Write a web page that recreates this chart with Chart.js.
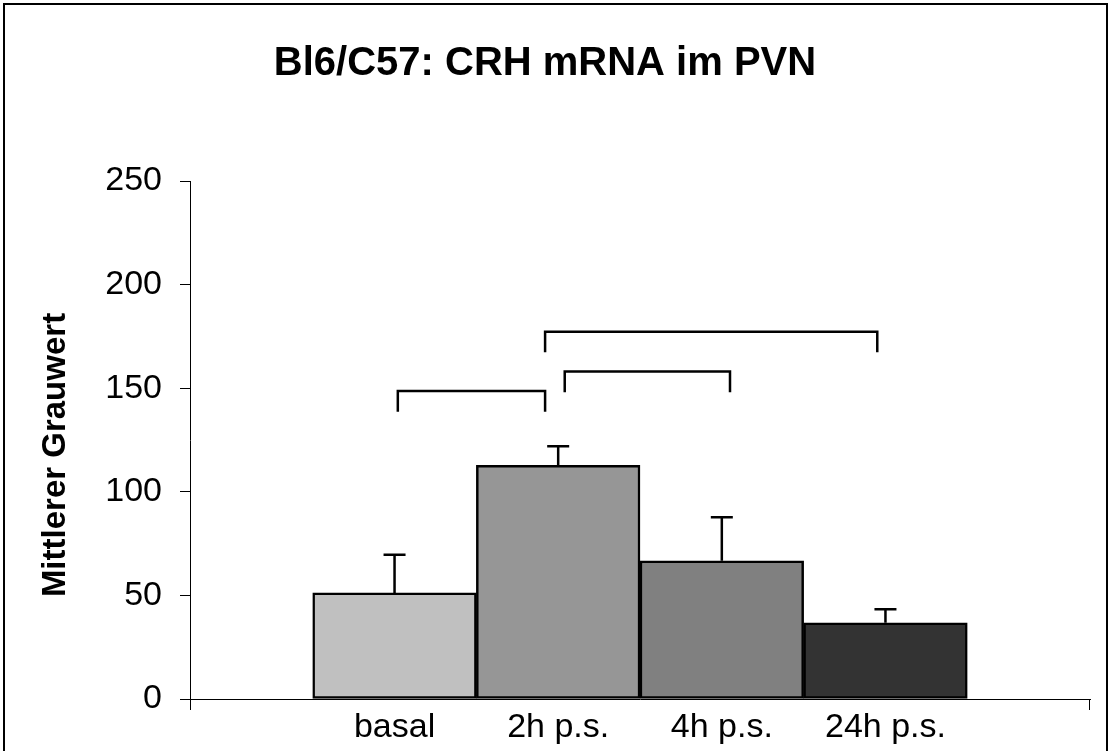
<!DOCTYPE html>
<html>
<head>
    <title>Bl6/C57: CRH mRNA im PVN</title>
    <script src="https://cdn.jsdelivr.net/npm/chart.js"></script>
    <style>
        body { margin: 0; background: #fff; }
    </style>
</head>
<body>
    <canvas id="crhChart" width="1112" height="751"></canvas>

    <script>
        // Daten
        const categories = ['basal', '2h p.s.', '4h p.s.', '24h p.s.'];
        const meanValues = [51.2, 112.8, 66.7, 36.8];
        const errorValues = [18.4, 9.2, 21.0, 6.5];
        const barColors = ['#c0c0c0', '#969696', '#808080', '#333333'];
        const yTicks = [0, 50, 100, 150, 200, 250];
        const yTitle = 'Mittlerer Grauwert';

        // Signifikanz-Klammern (x in Kategorie-Einheiten, y in Grauwert)
        const bracketFrom = [0.02, 1.04, 0.92];
        const bracketTo = [0.92, 2.05, 2.95];
        const bracketTop = [148.6, 158.0, 177.3];
        const bracketDrop = [10, 10, 10];

        const fontFamily = 'Arial, "Liberation Sans", sans-serif';

        // Plugin: Rahmen, Achsentitel, Fehlerbalken, Klammern
        const extrasPlugin = {
            id: 'extras',
            beforeDraw(chart) {
                const ctx = chart.ctx;
                ctx.save();
                ctx.fillStyle = '#fff';
                ctx.fillRect(0, 0, chart.width, chart.height);
                ctx.strokeStyle = '#000';
                ctx.lineWidth = 2;
                ctx.strokeRect(4, 4, 1103, 800);
                ctx.restore();
            },
            afterDatasetsDraw(chart) {
                const ctx = chart.ctx;
                const x = chart.scales.x;
                const y = chart.scales.y;
                ctx.save();
                ctx.strokeStyle = '#000';

                // y-Achsentitel (etwas unterhalb der Mitte wie im Original)
                ctx.save();
                ctx.translate(56, 455);
                ctx.rotate(-Math.PI / 2);
                ctx.fillStyle = '#000';
                ctx.font = 'bold 33px ' + fontFamily;
                ctx.textAlign = 'center';
                ctx.textBaseline = 'middle';
                ctx.fillText(yTitle, 0, 0);
                ctx.restore();

                // Achsen-Verlaengerungen unten
                ctx.lineWidth = 1;
                ctx.beginPath();
                ctx.moveTo(x.left + 0.5, y.bottom);
                ctx.lineTo(x.left + 0.5, y.bottom + 11);
                ctx.moveTo(x.right - 0.5, y.bottom);
                ctx.lineTo(x.right - 0.5, y.bottom + 11);
                ctx.stroke();

                // Fehlerbalken
                ctx.lineWidth = 2.5;
                meanValues.forEach((v, i) => {
                    const px = x.getPixelForValue(i);
                    const top = y.getPixelForValue(v + errorValues[i]);
                    ctx.beginPath();
                    ctx.moveTo(px, y.getPixelForValue(v));
                    ctx.lineTo(px, top);
                    ctx.moveTo(px - 11, top);
                    ctx.lineTo(px + 11, top);
                    ctx.stroke();
                });

                // Klammern
                bracketFrom.forEach((from, i) => {
                    const x1 = x.getPixelForValue(from);
                    const x2 = x.getPixelForValue(bracketTo[i]);
                    const yt = y.getPixelForValue(bracketTop[i]);
                    const yb = y.getPixelForValue(bracketTop[i] - bracketDrop[i]);
                    ctx.beginPath();
                    ctx.moveTo(x1, yb);
                    ctx.lineTo(x1, yt);
                    ctx.lineTo(x2, yt);
                    ctx.lineTo(x2, yb);
                    ctx.stroke();
                });
                ctx.restore();
            }
        };

        const ctx = document.getElementById('crhChart').getContext('2d');
        const chart = new Chart(ctx, {
            type: 'bar',
            data: {
                datasets: [{
                    data: categories.map((c, i) => ({ x: i, y: meanValues[i] })),
                    backgroundColor: barColors,
                    borderColor: '#000',
                    borderWidth: 2.5,
                    borderSkipped: false,
                    barPercentage: 1,
                    categoryPercentage: 1
                }]
            },
            options: {
                responsive: false,
                animation: false,
                devicePixelRatio: 1,
                layout: { padding: { left: 0, right: 22, top: 0, bottom: 0 } },
                plugins: {
                    legend: { display: false },
                    tooltip: { enabled: false },
                    title: {
                        display: true,
                        text: 'Bl6/C57: CRH mRNA im PVN',
                        color: '#000',
                        font: { family: fontFamily, size: 40, weight: 'bold' },
                        padding: { top: 40, bottom: 93 }
                    }
                },
                scales: {
                    x: {
                        type: 'linear',
                        offset: false,
                        min: -1.25,
                        max: 4.25,
                        afterBuildTicks: (scale) => {
                            scale.ticks = categories.map((c, i) => ({ value: i }));
                        },
                        afterFit: (scale) => { scale.height = 52; },
                        grid: { display: false },
                        border: { display: true, color: '#000', width: 1 },
                        ticks: {
                            autoSkip: false,
                            maxRotation: 0,
                            padding: 0,
                            color: '#000',
                            font: { family: fontFamily, size: 34 },
                            callback: (value) => categories[value]
                        }
                    },
                    y: {
                        min: 0,
                        max: 250,
                        afterBuildTicks: (scale) => {
                            scale.ticks = yTicks.map(v => ({ value: v }));
                        },
                        afterFit: (scale) => { scale.width = 190; },
                        grid: {
                            drawOnChartArea: false,
                            drawTicks: true,
                            tickLength: 10,
                            color: '#000'
                        },
                        border: { display: true, color: '#000', width: 1 },
                        ticks: {
                            padding: 18,
                            color: '#000',
                            font: { family: fontFamily, size: 34 }
                        }
                    }
                }
            },
            plugins: [extrasPlugin]
        });
    </script>
</body>
</html>
